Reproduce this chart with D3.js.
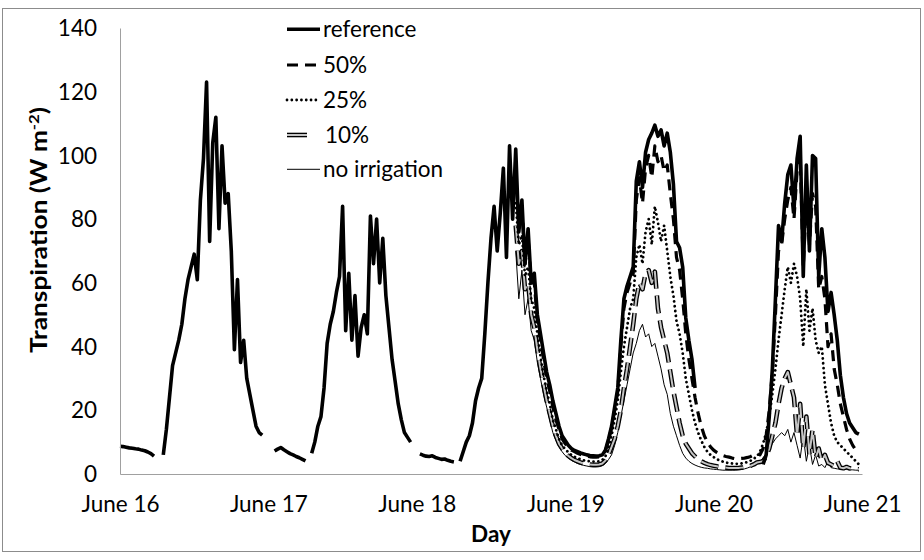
<!DOCTYPE html>
<html><head><meta charset="utf-8">
<script src="https://cdn.jsdelivr.net/npm/d3@7"></script>
<style>
body{margin:0;background:#fff}
text{font-family:Lato,"Open Sans",sans-serif;fill:#000}
</style>
</head><body>
<svg id="chart" width="924" height="560"></svg>
<script>
// ---------------- DATA ----------------
const dayLabels = ["June 16","June 17","June 18","June 19","June 20","June 21"];
const dayTickHours = [0,24,48,72,96,120];
const yTicks = [0,20,40,60,80,100,120,140];
const seriesNames = ["reference","50%","25%","10%","no irrigation"];
const STEP_HOURS = 0.5;          // half-hourly values
const REFERENCE_START = 0;       // hours after June 16 00:00
const OTHERS_START = 64;         // other treatments shown from June 18 16:00 (identical to reference before)

const reference = [
 8.7,8.6,8.4,8.2,8.1,7.9,7.8,7.5,7.3,6.9,6.4,5.6,null,null,
 6,14,24,34,38,42,47,55,61,65,69,61,86,99,123,73,104,112,77,103,85,88,70,39,61,35,42,30,25,20,15,13,12.2,null,
 null,null,7.2,7.8,8.3,7.6,7.0,6.4,6.0,5.5,5.1,4.6,4.1,null,
 6.5,10,15,18,27,41,47,51,57,62,84,45,63,42,56,37,46,50,44,81,66,80,60,74,56,46,36,29,22,17,13,11.5,10,null,
 null,6.3,5.9,5.6,5.5,5.7,5.2,4.9,4.6,4.7,4.3,4.0,3.8,null,
 4.0,7,10,12,16,23,27,30,44,60,74,84,70,82,96,68,103,80,102,76,86,66,77,60,63,50,44,38,32,28,23,19,15,12,
 10.5,9,8,7.4,7,6.6,6.3,6,5.8,5.7,5.6,5.7,6,7.5,11,15,21,27,42,55,59,62,65,92,98,90,101,105,107,109.5,106,108,103,107,101,91,73,71,65,49,42,36,27,null,null,null,null,null,
 null,null,null,null,null,null,null,null,null,null,null,null,null,null,null,null,
 3,6,18,33,55,78,73,85,94,97,83,99,106,62,97,70,100,99,62,77,68,51,57,50,42,31,24,19,16,14.5,13,12.5
];

const pct50 = [
 95,78,84,66,74,60,60,48,42,36,30,26,21,17,14,11,
 9.5,8.5,7.5,7,6.5,6.1,5.8,5.6,5.4,5.3,5.3,5.4,5.8,7.3,10.5,14.5,20,26,40,52,57,60,63,86,93,85,96,100,93,103,98,100,95,97,88,80,68,64,55,44,36,30,24,19,15,12,10,8.5,
 7.5,6.8,6.2,5.8,5.5,5.3,5,4.8,4.8,4.9,5,5.2,5.5,6,6.5,6,8,12,20,32,50,70,72,80,86,90,80,95,100,65,85,72,88,84,58,62,55,40,44,33,28,22,18,14,11,9,7.5,6.5
];

const pct25 = [
 85,72,75,62,65,55,52,44,37,31,26,22,17,14,11,9,
 7.8,6.8,6,5.4,5,4.6,4.3,4.1,4,3.9,3.9,4,4.4,5.5,8,12,17,23,32,40,46,52,55,68,72,66,76,80,72,84,79,73,78,70,62,56,48,44,38,30,25,20,16,13,10.5,8.5,7,6,
 5.3,4.7,4.2,3.9,3.6,3.4,3.3,3.2,3.2,3.3,3.5,3.8,4.2,4.8,5.5,7,9.5,13,18,25,33,42,50,58,65,60,66,62,55,40,58,45,52,42,38,40,28,22,16,12,10,9,8,7,6,5,4,3
];

const pct10 = [
 78,66,70,58,60,50,46,39,33,28,23,19,15,12,9.5,8,
 6.6,5.7,5,4.4,4,3.6,3.3,3.1,3,2.9,2.9,3,3.3,4.2,6,8.5,11,15,20,27,33,40,47,55,60,58,63,64,60,63.5,52,46,42,38,32,26,21,16,12,9.5,8,6.5,5.5,4.6,4,3.5,3.1,2.8,
 2.6,2.4,2.2,2.1,2,1.9,1.9,1.9,1.9,2,2.1,2.3,2.6,3,3.6,3.8,4,5.5,8,12,16,22,27,30,32,28,24,12,22,8,18,6,14,5,8,4,6,3.5,3,2.5,4,2,1.8,2.2,1.8,1.6,1.5,1.5
];

const noIrrigation = [
 70,55,64,50,55,45,42,35,30,25,21,17,13,10.5,8.5,7,
 5.8,5,4.3,3.8,3.3,3,2.7,2.5,2.3,2.2,2.2,2.3,2.6,3.3,4.5,6,9,13,18,23,28,33,38,41,45,47,43,44,40,41,37,33,28,25,19,15,12,9,6.5,5,4,3.3,2.8,2.4,2.1,1.9,1.8,1.6,
 1.5,1.4,1.3,1.2,1.2,1.2,1.2,1.2,1.3,1.4,1.6,1.9,2.3,2.8,3.3,4,5,6.5,8,9.5,11,12,13,12,14,10,13,9,5,12,4,9,3,6,2.5,3,2,4,2,1.8,1.6,1.5,1.4,1.4,1.3,1.3,1.2,1.2
];

// ---------------- CHART ----------------
const svg = d3.select("#chart");
const x = d3.scaleLinear().domain([0,120]).range([120,862]);
const y = d3.scaleLinear().domain([0,140]).range([474,28]);
const FONT = 22.5;

svg.append("rect").attr("x",2.5).attr("y",8.5).attr("width",918).attr("height",543)
  .attr("fill","#fff").attr("stroke","#8c8c8c").attr("stroke-width",1);

const toPts = (arr,start) => arr.map((v,i)=>({h:start+i*STEP_HOURS,v}));
const line = d3.line().defined(d=>d.v!=null).x(d=>x(d.h)).y(d=>y(d.v));

const styles = {
  "reference":{w:3.6,dash:null},
  "50%":{w:3.2,dash:"11,7"},
  "25%":{w:2.8,dash:"0.01,4.8",cap:"round"},
  "10%":{w:4.6,dash:"18,7",inner:"#c4c4c4",innerW:2},
  "no irrigation":{w:1,dash:null}
};
const data = {
  "reference":toPts(reference,REFERENCE_START),
  "50%":toPts(pct50,OTHERS_START),
  "25%":toPts(pct25,OTHERS_START),
  "10%":toPts(pct10,OTHERS_START),
  "no irrigation":toPts(noIrrigation,OTHERS_START)
};

const g = svg.append("g");
function drawPath(sel, d, name, dashOverride){
  const s = styles[name];
  const dash = dashOverride === undefined ? s.dash : dashOverride;
  const p = sel.append("path").attr("d",d).attr("fill","none").attr("stroke","#000")
    .attr("stroke-width",s.w).attr("stroke-linejoin","round")
    .attr("stroke-linecap",s.cap||"butt");
  if(dash) p.attr("stroke-dasharray",dash);
  if(s.inner){
    const q = sel.append("path").attr("d",d).attr("fill","none").attr("stroke",s.inner)
      .attr("stroke-width",s.innerW).attr("stroke-linejoin","round");
    if(dash) q.attr("stroke-dasharray",dash);
  }
}
// draw treatments first, reference on top
["no irrigation","10%","25%","50%","reference"].forEach(n=>drawPath(g,line(data[n]),n));

// axes
const yAxis = d3.axisLeft(y).tickValues(yTicks).tickSize(0).tickSizeOuter(0).tickPadding(23);
const ya = svg.append("g").attr("transform","translate(120,0)").call(yAxis);
ya.select(".domain").attr("stroke","#a0a0a0");
ya.selectAll("text").attr("font-size",FONT).attr("font-family","Lato").attr("dy","0.34em");

const xAxis = d3.axisBottom(x).tickValues(dayTickHours).tickFormat((d,i)=>dayLabels[i])
  .tickSize(0).tickSizeOuter(0).tickPadding(22);
const xa = svg.append("g").attr("transform","translate(0,474)").call(xAxis);
xa.select(".domain").attr("stroke","#a0a0a0");
xa.selectAll("text").attr("font-size",FONT).attr("font-family","Lato");

// axis titles
svg.append("text").attr("x",491).attr("y",542).attr("text-anchor","middle")
  .attr("font-size",FONT).attr("font-weight","bold").text("Day");
const yt = svg.append("text").attr("transform","translate(47,230) rotate(-90)")
  .attr("text-anchor","middle").attr("font-size",22).attr("font-weight","bold")
  .attr("textLength",246).attr("lengthAdjust","spacingAndGlyphs");
yt.append("tspan").text("Transpiration (W m");
yt.append("tspan").attr("baseline-shift","super").attr("font-size",14).text("-2");
yt.append("tspan").text(")");

// legend
const legY = [29.3,65,100,135,169.3];
const leg = svg.append("g");
seriesNames.forEach((n,i)=>{
  const ly = legY[i];
  if(n==="10%") drawPath(leg, `M287,${ly}H307`, n, null);
  else drawPath(leg, `M287,${ly}H320`, n);
  leg.append("text").attr("x",n==="10%"?325:323).attr("y",ly+7.5).attr("font-size",FONT).text(n);
});
</script>
</body></html>
